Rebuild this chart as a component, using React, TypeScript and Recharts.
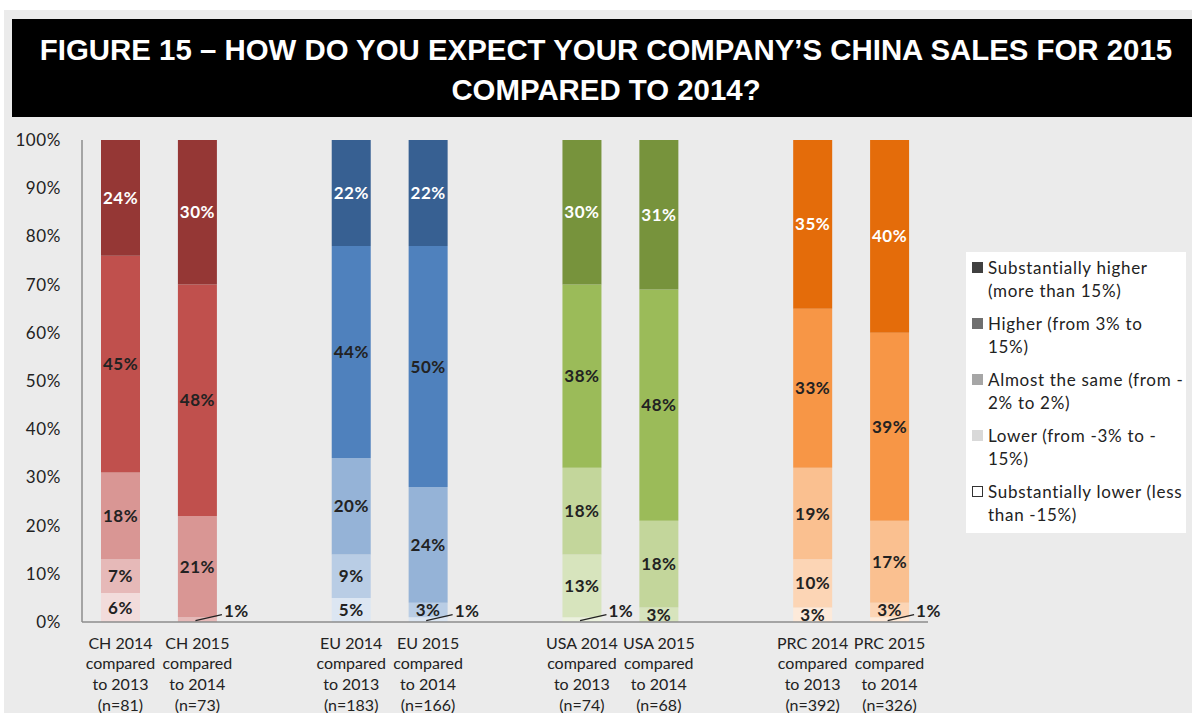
import { BarChart, Bar, XAxis, YAxis, Cell, LabelList } from "recharts";

// categories (gap entries are empty slots between the regions)
const categories = [
  "CH 2014", "CH 2015", "gap1",
  "EU 2014", "EU 2015", "gap2",
  "USA 2014", "USA 2015", "gap3",
  "PRC 2014", "PRC 2015",
];

const tickLabels: string[][] = [
  ["CH 2014", "compared", "to 2013", "(n=81)"],
  ["CH 2015", "compared", "to 2014", "(n=73)"],
  [],
  ["EU 2014", "compared", "to 2013", "(n=183)"],
  ["EU 2015", "compared", "to 2014", "(n=166)"],
  [],
  ["USA 2014", "compared", "to 2013", "(n=74)"],
  ["USA 2015", "compared", "to 2014", "(n=68)"],
  [],
  ["PRC 2014", "compared", "to 2013", "(n=392)"],
  ["PRC 2015", "compared", "to 2014", "(n=326)"],
];

const regions = ["CH", "CH", null, "EU", "EU", null, "USA", "USA", null, "PRC", "PRC"];

// percent values, bottom to top of each stack
const substLower = [6, 0, null, 5, 1, null, 1, 0, null, 3, 1];
const lower = [7, 1, null, 9, 3, null, 13, 3, null, 10, 3];
const same = [18, 21, null, 20, 24, null, 18, 18, null, 19, 17];
const higher = [45, 48, null, 44, 50, null, 38, 48, null, 33, 39];
const substHigher = [24, 30, null, 22, 22, null, 30, 31, null, 35, 40];

const yTicks = [0, 10, 20, 30, 40, 50, 60, 70, 80, 90, 100];

// shades per region: substLower, lower, same, higher, substHigher
const palettes: Record<string, string[]> = {
  CH: ["#F2DCDB", "#E6B9B8", "#D99694", "#C0504D", "#953735"],
  EU: ["#DCE6F2", "#B9CDE5", "#95B3D7", "#4F81BD", "#376092"],
  USA: ["#EBF1DE", "#D7E4BD", "#C3D69B", "#9BBB59", "#77933C"],
  PRC: ["#FDEADA", "#FCD5B5", "#FAC090", "#F79646", "#E46C0A"],
};

const legendItems = [
  { color: "#404040", lines: ["Substantially higher", "(more than 15%)"] },
  { color: "#6f6f6f", lines: ["Higher (from 3% to", "15%)"] },
  { color: "#a6a6a6", lines: ["Almost the same (from -", "2% to 2%)"] },
  { color: "#d9d9d9", lines: ["Lower (from -3% to -", "15%)"] },
  { color: "#ffffff", lines: ["Substantially lower (less", "than -15%)"] },
];

const seriesKeys = ["substLower", "lower", "same", "higher", "substHigher"];

const data = categories.map((name, i) => ({
  name,
  substLower: substLower[i],
  lower: lower[i],
  same: same[i],
  higher: higher[i],
  substHigher: substHigher[i],
}));

const FONT = "Lato, 'Open Sans', sans-serif";
const TEXT = "#222222";

const XTick = (props: any) => {
  const { x, y, payload } = props;
  const idx = categories.indexOf(payload.value);
  const lines = tickLabels[idx] || [];
  return (
    <g>
      {lines.map((l, i) => (
        <text
          key={i}
          x={x}
          y={y + 21 + i * 20.8}
          dy="0.355em"
          textAnchor="middle"
          fontFamily={FONT}
          fontSize={16}
          fill={TEXT}
        >
          {l}
        </text>
      ))}
    </g>
  );
};

const makeLabel = (white: boolean) => (p: any) => {
  const { x, y, width, height, value } = p;
  if (value == null || value === 0) return null;
  const cx = Number(x) + Number(width) / 2;
  const cy = Number(y) + Number(height) / 2;
  if (value <= 1) {
    const right = Number(x) + Number(width);
    return (
      <g>
        <line
          x1={Number(x) + Number(width) * 0.45}
          y1={cy + 1}
          x2={right + 5}
          y2={cy - 5}
          stroke={TEXT}
          strokeWidth={1.3}
        />
        <text
          x={right + 7}
          y={cy - 9}
          dy="0.355em"
          fontFamily={FONT}
          fontSize={17}
          fontWeight={700}
          letterSpacing={0.5}
          fill={TEXT}
        >
          {value}%
        </text>
      </g>
    );
  }
  return (
    <text
      x={cx}
      y={cy}
      dy="0.355em"
      textAnchor="middle"
      fontFamily={FONT}
      fontSize={17}
      fontWeight={700}
      letterSpacing={0.5}
      fill={white ? "#ffffff" : TEXT}
    >
      {value}%
    </text>
  );
};

const App = () => {
  return (
    <div
      style={{
        position: "fixed",
        left: 0,
        top: 0,
        width: 1192,
        height: 713,
        background: "#ffffff",
        overflow: "hidden",
      }}
    >
      <div
        style={{
          position: "absolute",
          left: 4,
          top: 10,
          width: 1188,
          height: 703,
          background: "#ebebeb",
        }}
      />
      <div
        style={{
          position: "absolute",
          left: 12,
          top: 19,
          width: 1180,
          height: 98,
          background: "#000000",
        }}
      />
      <div
        style={{
          position: "absolute",
          left: 12,
          top: 30,
          width: 1188,
          textAlign: "center",
          color: "#ffffff",
          fontFamily: "'Liberation Sans', Arial, sans-serif",
          fontWeight: 700,
          fontSize: 29.4,
          lineHeight: "40px",
          whiteSpace: "nowrap",
        }}
      >
        FIGURE 15 – HOW DO YOU EXPECT YOUR COMPANY’S CHINA SALES FOR 2015
        <br />
        COMPARED TO 2014?
      </div>

      <div style={{ position: "absolute", left: 0, top: 0 }}>
        <BarChart
          width={1192}
          height={713}
          data={data}
          margin={{ top: 140, right: 264, bottom: 0, left: 0 }}
        >
          <XAxis
            dataKey="name"
            interval={0}
            height={91}
            tickLine={false}
            tickSize={0}
            tickMargin={0}
            axisLine={{ stroke: "#8c8c8c", strokeWidth: 1.5 }}
            tick={<XTick />}
          />
          <YAxis
            type="number"
            domain={[0, 100]}
            ticks={yTicks}
            width={82}
            tickLine={false}
            tickSize={0}
            tickMargin={21}
            tickFormatter={(v: number) => `${v}%`}
            axisLine={{ stroke: "#8c8c8c", strokeWidth: 1.5 }}
            tick={{ fontFamily: FONT, fontSize: 17, fill: TEXT, letterSpacing: 0.6 }}
          />
          {seriesKeys.map((key, s) => (
            <Bar
              key={key}
              dataKey={key}
              stackId="a"
              barSize={39}
              isAnimationActive={false}
            >
              {data.map((d, i) => (
                <Cell
                  key={d.name}
                  fill={regions[i] ? palettes[regions[i] as string][s] : "none"}
                />
              ))}
              <LabelList dataKey={key} content={makeLabel(s === 4)} />
            </Bar>
          ))}
        </BarChart>
      </div>

      <div
        style={{
          position: "absolute",
          left: 966,
          top: 252,
          width: 220,
          height: 281,
          background: "#ffffff",
        }}
      >
        {legendItems.map((item, i) => (
          <div
            key={i}
            style={{
              position: "absolute",
              left: 0,
              top: 4 + i * 56,
              fontFamily: FONT,
              fontSize: 17,
              letterSpacing: 0.7,
              lineHeight: "23px",
              color: TEXT,
              whiteSpace: "nowrap",
            }}
          >
            <div
              style={{
                position: "absolute",
                left: 6,
                top: 6,
                width: item.color === "#ffffff" ? 9 : 11,
                height: item.color === "#ffffff" ? 9 : 11,
                background: item.color,
                border: item.color === "#ffffff" ? "1px solid #333333" : "none",
              }}
            />
            <div style={{ marginLeft: 22 }}>
              {item.lines[0]}
              <br />
              {item.lines[1]}
            </div>
          </div>
        ))}
      </div>
    </div>
  );
};

export default App;
